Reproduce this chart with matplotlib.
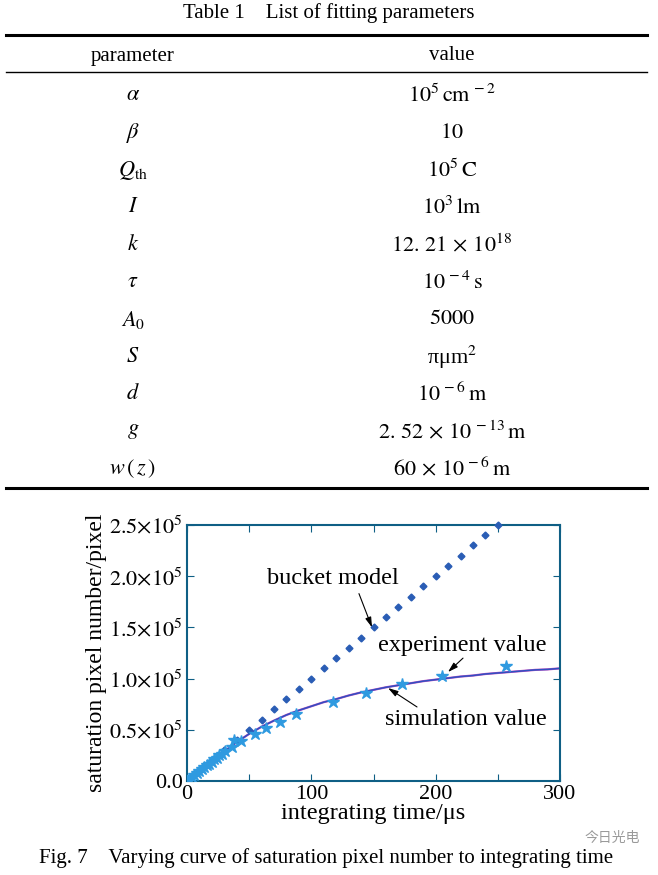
#! /usr/bin/env python3

import numpy as np
import matplotlib
matplotlib.use("Agg")
from matplotlib import pyplot as plt
from matplotlib.lines import Line2D
from matplotlib.ticker import FixedLocator, FuncFormatter

plt.rcParams['font.family'] = ['Liberation Serif', 'DejaVu Serif']
plt.rcParams['mathtext.fontset'] = 'stix'

# Table 1 contents
param_names = [r'$\alpha$', r'$\beta$', r'$Q_{\rm th}$', r'$I$', r'$k$', r'$\tau$',
               r'$A_0$', r'$S$', r'$d$', r'$g$', r'$w\,(\,z\,)$']
param_values = [r'$10^{5}\,\mathrm{cm}^{\,-2}$', r'$10$', r'$10^{5}\,\mathrm{C}$',
                r'$10^{3}\,\mathrm{lm}$', r'$12.\,21\,\times\,10^{18}$', r'$10^{\,-4}\,\mathrm{s}$',
                r'$5000$', r'πμm$^{2}$', r'$10^{\,-6}\,\mathrm{m}$',
                r'$2.\,52\,\times\,10^{\,-13}\,\mathrm{m}$', r'$60\,\times\,10^{\,-6}\,\mathrm{m}$']

# Fig. 7 data (integrating time in us, pixel number in units of 1e5)
bucket_t = [10, 20, 30, 40, 50, 60, 70, 80, 90, 100, 110, 120, 130, 140, 150,
            160, 170, 180, 190, 200, 210, 220, 230, 240, 250]
bucket_n = [0.10, 0.20, 0.30, 0.40, 0.50, 0.60, 0.70, 0.80, 0.90, 1.00, 1.10, 1.20, 1.30,
            1.40, 1.50, 1.60, 1.70, 1.80, 1.90, 2.00, 2.10, 2.20, 2.30, 2.40, 2.50]

exp_t = [0, 2, 4, 6, 8, 10, 12, 14, 16, 18, 20, 22, 24, 26, 28, 30.7, 36, 38, 43.5,
         54.7, 63.5, 74.7, 87.5, 117.3, 144, 173.3, 205.3, 256.8]
exp_n = [0.0, 0.02, 0.04, 0.06, 0.075, 0.095, 0.115, 0.135, 0.155, 0.17, 0.19, 0.21,
         0.225, 0.25, 0.26, 0.29, 0.33, 0.40, 0.39, 0.46, 0.52, 0.58, 0.656, 0.773,
         0.86, 0.95, 1.03, 1.127]

sim_t = [0, 10, 20, 30, 40, 50, 60, 70, 80, 90, 100, 110, 120, 130, 140, 150, 160,
         170, 180, 190, 200, 210, 220, 230, 240, 250, 260, 270, 280, 290, 300]
sim_n = [0.0, 0.10, 0.20, 0.29, 0.38, 0.46, 0.53, 0.59, 0.645, 0.69, 0.73, 0.77, 0.80,
         0.835, 0.865, 0.89, 0.915, 0.935, 0.955, 0.975, 0.99, 1.005, 1.02, 1.03, 1.045,
         1.055, 1.065, 1.075, 1.085, 1.09, 1.10]

W, H = 658, 875
fig = plt.figure(figsize=(W / 100, H / 100), dpi=100)

def fy(p):
    return 1 - p / H

def fx(p):
    return p / W

#============================================================
# Table
#============================================================
fig.text(0.5, fy(13), 'Table 1    List of fitting parameters', ha='center', va='center', fontsize=15)
for yp, lw in [(35, 2.2), (72, 1.0), (488, 2.2)]:
    fig.add_artist(Line2D([fx(6), fx(647)], [fy(yp), fy(yp)], color='black', lw=lw))
fig.text(fx(133), fy(56), 'parameter', ha='center', va='center', fontsize=15)
fig.text(fx(452), fy(56), 'value', ha='center', va='center', fontsize=15)

row_y = 96
for name, val in zip(param_names, param_values):
    fig.text(fx(133), fy(row_y), name, ha='center', va='center', fontsize=16)
    fig.text(fx(452), fy(row_y), val, ha='center', va='center', fontsize=16)
    row_y += 37.3

#============================================================
# Fig. 7
#============================================================
frame_col = '#0f5f85'
ax = fig.add_axes([fx(187), fy(781), fx(560) - fx(187), fy(525) - fy(781)])
ax.plot(bucket_t, bucket_n, linestyle='none', marker='D', ms=3.5, color='#2a5db5', clip_on=False, zorder=3)
ax.plot(sim_t, sim_n, color='#c04cc0', lw=1.6, zorder=2)
ax.plot(sim_t, sim_n, color='#3050c0', lw=1.1, zorder=2)
ax.plot(exp_t, exp_n, linestyle='none', marker='*', ms=9, color='#2f9ae0', zorder=4)

ax.set_xlim(0, 300)
ax.set_ylim(0, 2.5)
ax.xaxis.set_major_locator(FixedLocator([0, 50, 100, 150, 200, 250, 300]))
ax.xaxis.set_major_formatter(FuncFormatter(lambda v, p: '%d' % v if v % 100 == 0 else ''))
ax.yaxis.set_major_locator(FixedLocator([0, 0.5, 1.0, 1.5, 2.0, 2.5]))
ax.yaxis.set_major_formatter(FuncFormatter(
    lambda v, p: '0.0' if v == 0 else r'$%.1f{\times}10^{5}$' % v))
ax.tick_params(direction='in', top=True, right=True, length=5, color=frame_col,
               labelsize=16, pad=3)
for s in ax.spines.values():
    s.set_color(frame_col)
    s.set_linewidth(1.5)

ax.set_xlabel('integrating time/μs', fontsize=17.5, labelpad=-1)
ax.set_ylabel('saturation pixel number/pixel', fontsize=17, labelpad=2)

arrow = dict(arrowstyle='-|>,head_length=0.6,head_width=0.18', color='black', lw=0.8,
             shrinkA=0, shrinkB=0)
ax.text(117.4, 1.98, 'bucket model', ha='center', va='center', fontsize=17.5)
ax.annotate('', xy=(148.8, 1.50), xytext=(138.3, 1.83), arrowprops=arrow)
ax.text(221.2, 1.32, 'experiment value', ha='center', va='center', fontsize=17.5)
ax.annotate('', xy=(209.9, 1.064), xytext=(222.0, 1.20), arrowprops=arrow)
ax.text(224.4, 0.60, 'simulation value', ha='center', va='center', fontsize=17.5)
ax.annotate('', xy=(161.7, 0.908), xytext=(185.0, 0.723), arrowprops=arrow)

fig.text(fx(326), fy(858), 'Fig. 7    Varying curve of saturation pixel number to integrating time',
         ha='center', va='center', fontsize=15)
fig.text(fx(612), fy(838), '今日光电', ha='center', va='center', fontsize=10, color='#9a9a9a',
         family=['Noto Sans CJK SC', 'DejaVu Sans'])

plt.savefig("out.png", dpi=100)
